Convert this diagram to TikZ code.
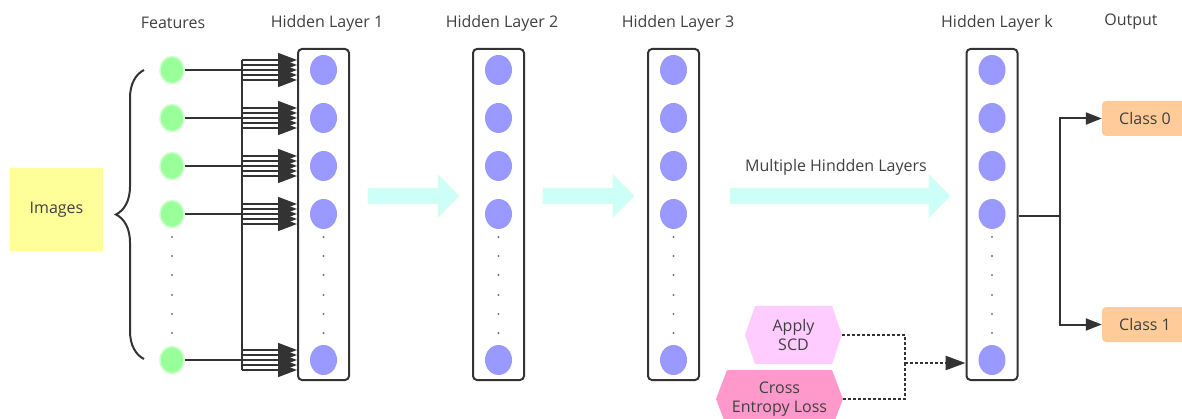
\documentclass[tikz,border=0pt]{standalone}
\usepackage{fontspec}
\setmainfont{Open Sans}
\usetikzlibrary{shapes.geometric,arrows.meta,decorations.pathreplacing,calc}
\definecolor{neuronc}{HTML}{9999FF}
\definecolor{featc}{HTML}{99FF99}
\definecolor{featb}{HTML}{CCFFCC}
\definecolor{bigc}{HTML}{CCFFF8}
\definecolor{bigb}{HTML}{D8FFEC}
\definecolor{txt}{HTML}{404040}
\definecolor{ln}{HTML}{333333}
\definecolor{yel}{HTML}{FFFF99}
\definecolor{peach}{HTML}{FFCC99}
\definecolor{pinkl}{HTML}{FFCCFF}
\definecolor{pinkd}{HTML}{FF99CC}
\definecolor{dotg}{HTML}{777777}
\newcommand\mybigarrow[3]{%
  \path[bigarr] (#1,#3-7.5) -- (#2-21,#3-7.5) -- (#2-21,#3-21) -- (#2,#3)
    -- (#2-21,#3+21) -- (#2-21,#3+7.5) -- (#1,#3+7.5) -- cycle;}
\tikzset{
  neuron/.style={ellipse, fill=neuronc, minimum width=27, minimum height=30, inner sep=0},
  feature/.style={ellipse, fill=featc, draw=featb, line width=1.5, minimum width=24, minimum height=27, inner sep=0},
  layerbox/.style={draw=ln, line width=2, rounded corners=4, minimum width=51, minimum height=331, inner sep=0},
  lbl/.style={text=txt, inner sep=0},
  dotc/.style={circle, fill=dotg, minimum size=2.2, inner sep=0},
  conn/.style={draw=ln, line width=2},
  fan/.style={draw=ln, line width=1.6, -{Triangle[length=19pt,width=14pt]}},
  bigarr/.style={fill=bigc, draw=bigb, line width=1},
  outarr/.style={conn, -{Triangle[length=16pt,width=12pt]}},
  dotl/.style={draw=ln, line width=2.5, dash pattern=on 2.5pt off 2.5pt},
  classbox/.style={fill=peach, rounded corners=4, minimum width=86, minimum height=35, inner sep=0, text=txt},
  hexl/.style={minimum width=97, minimum height=58, inner sep=0, align=center, text=txt,
    path picture={\fill[pinkl] ([xshift=10pt]path picture bounding box.north west)
      -- ([xshift=-10pt]path picture bounding box.north east) -- (path picture bounding box.east)
      -- ([xshift=-10pt]path picture bounding box.south east) -- ([xshift=10pt]path picture bounding box.south west)
      -- (path picture bounding box.west) -- cycle;}},
  hexd/.style={minimum width=127, minimum height=58, inner sep=0, align=center, text=txt,
    path picture={\fill[pinkd] ([xshift=11pt]path picture bounding box.north west)
      -- ([xshift=-11pt]path picture bounding box.north east) -- (path picture bounding box.east)
      -- ([xshift=-11pt]path picture bounding box.south east) -- ([xshift=11pt]path picture bounding box.south west)
      -- (path picture bounding box.west) -- cycle;}}
}
\begin{document}
\begin{tikzpicture}[x=1pt,y=-1pt,font=\fontsize{16}{19.5}\selectfont]
\useasboundingbox (0,0) rectangle (1182,419);
\clip (0,0) rectangle (1182,419);

% labels
\node[lbl] (tf) at (173,23) {Features};
\node[lbl] (t1) at (327,23) {Hidden Layer 1};
\node[lbl] (t2) at (502,23) {Hidden Layer 2};
\node[lbl] (t3) at (678,23) {Hidden Layer 3};
\node[lbl] (tk) at (997,23) {Hidden Layer k};
\node[lbl] (to) at (1131,22) {Output};

% images
\node[fill=yel, minimum width=93, minimum height=83, inner sep=0, text=txt] (img) at (56.5,209.5) {Images};
\draw[ln, line width=2, decorate, decoration={brace, amplitude=28pt, aspect=0.5}] (144,359) -- (144,70);

% features
\foreach \y [count=\i] in {70,118,166,214,360}
  \node[feature] (f\i) at (172,\y) {};
\foreach \y [count=\i] in {237,256,275,295,314,333}
  \node[dotc] (fd\i) at (172,\y) {};

% layers
\foreach \nm/\x in {L1/323.5, L2/498.5, L3/673.5, Lk/992} {
  \node[layerbox] (\nm) at (\x,214.5) {};
  \foreach \y [count=\i] in {70,118,166,214,360}
    \node[neuron] (\nm-n\i) at (\x,\y) {};
  \foreach \y [count=\i] in {237,256,275,295,314,333}
    \node[dotc] (\nm-d\i) at (\x,\y) {};
}

% bus and fan into layer 1
\coordinate (bus) at (242,60);
\coordinate (busb) at (242,370);
\draw[conn] (bus) -- (busb);
\foreach \i in {1,...,5}
  \draw[conn] (f\i.east) -- (f\i.east -| bus);
\foreach \i in {1,...,5}
  \foreach \d in {-10,-5,0,5,10}
    \draw[fan] ($(bus |- L1-n\i)+(0,\d)$) -- ($(L1.west |- L1-n\i)+(0,\d)$);

% big arrows
\mybigarrow{368}{459}{196}
\mybigarrow{543}{634}{196}
\mybigarrow{730}{950}{196}
\node[lbl] (mh) at (836,167) {Multiple Hindden Layers};

% outputs
\node[classbox] (c0) at (1145,118.5) {Class 0};
\node[classbox] (c1) at (1145,324.5) {Class 1};
\coordinate (j) at (1060,216);
\draw[conn] (Lk.east |- j) -- (j);
\draw[outarr] (j) |- (c0.west);
\draw[outarr] (j) |- (c1.west);

% loss nodes
\node[hexl] (scd) at (793.5,335) {Apply\\SCD};
\node[hexd] (ce) at (779.5,399) {Cross\\Entropy Loss};
\coordinate (m) at (905,363);
\draw[dotl] (scd.east) -| (m);
\draw[dotl] (ce.east) -| (m);
\draw[dotl, -{Triangle[length=20pt,width=14pt]}] (m) -- (Lk.west |- m);
\end{tikzpicture}
\end{document}
